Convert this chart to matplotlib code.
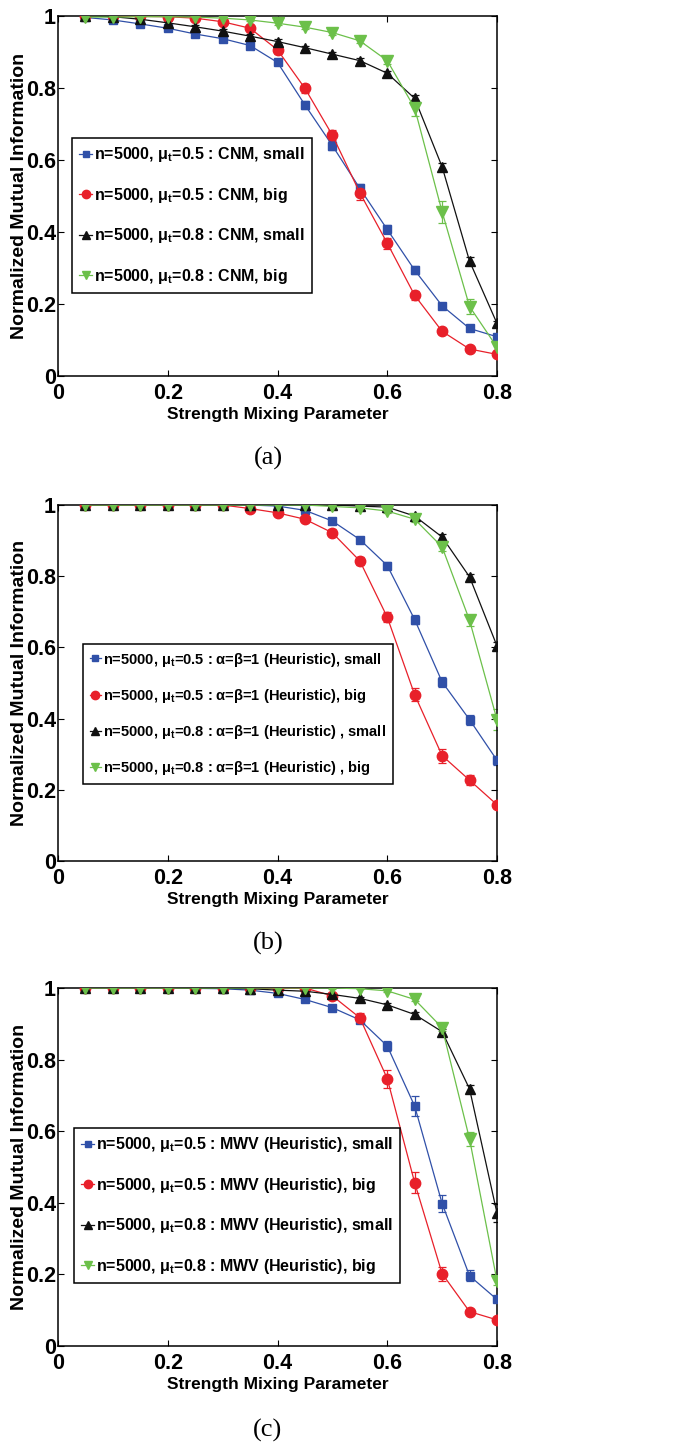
import matplotlib

matplotlib.use("Agg")
import matplotlib.pyplot as plt
import numpy as np

# strength mixing parameter on the x axis
MIX = [0.05, 0.10, 0.15, 0.20, 0.25, 0.30, 0.35, 0.40,
       0.45, 0.50, 0.55, 0.60, 0.65, 0.70, 0.75, 0.80]

# (a) CNM
CNM_SMALL_05 = [0.996, 0.989, 0.978, 0.966, 0.950, 0.937, 0.918, 0.871,
                0.753, 0.640, 0.521, 0.407, 0.294, 0.195, 0.132, 0.109]
CNM_BIG_05 = [1.000, 1.000, 0.999, 0.998, 0.994, 0.984, 0.966, 0.906,
              0.799, 0.669, 0.509, 0.369, 0.224, 0.124, 0.075, 0.060]
CNM_SMALL_08 = [1.000, 0.998, 0.991, 0.981, 0.970, 0.958, 0.944, 0.929,
                0.912, 0.894, 0.876, 0.841, 0.771, 0.581, 0.319, 0.146]
CNM_BIG_08 = [0.997, 0.997, 0.998, 0.998, 0.997, 0.994, 0.989, 0.980,
              0.969, 0.954, 0.931, 0.876, 0.744, 0.456, 0.193, 0.080]
CNM_ERR_SMALL_05 = [0.002, 0.003, 0.004, 0.005, 0.006, 0.006, 0.007, 0.008,
                    0.012, 0.012, 0.012, 0.012, 0.012, 0.008, 0.007, 0.008]
CNM_ERR_BIG_05 = [0.002, 0.002, 0.002, 0.003, 0.004, 0.006, 0.008, 0.012,
                  0.012, 0.014, 0.020, 0.015, 0.012, 0.008, 0.005, 0.004]
CNM_ERR_SMALL_08 = [0.002, 0.002, 0.003, 0.004, 0.005, 0.005, 0.005, 0.006,
                    0.006, 0.006, 0.006, 0.007, 0.010, 0.012, 0.012, 0.008]
CNM_ERR_BIG_08 = [0.002, 0.002, 0.002, 0.002, 0.003, 0.003, 0.004, 0.004,
                  0.005, 0.006, 0.007, 0.010, 0.022, 0.030, 0.020, 0.010]

# (b) alpha=beta=1 heuristic
HEU_SMALL_05 = [1.000, 1.000, 1.000, 1.000, 1.000, 1.000, 1.000, 0.997,
                0.985, 0.955, 0.903, 0.830, 0.678, 0.503, 0.397, 0.283]
HEU_BIG_05 = [1.000, 1.000, 1.000, 1.000, 1.000, 1.000, 0.990, 0.978,
              0.960, 0.922, 0.843, 0.685, 0.467, 0.296, 0.227, 0.158]
HEU_SMALL_08 = [1.000, 1.000, 1.000, 1.000, 1.000, 1.000, 1.000, 1.000,
                1.000, 1.000, 0.997, 0.994, 0.969, 0.910, 0.798, 0.604]
HEU_BIG_08 = [1.000, 1.000, 1.000, 1.000, 1.000, 1.000, 1.000, 1.000,
              1.000, 0.996, 0.992, 0.983, 0.960, 0.882, 0.676, 0.397]
HEU_ERR_SMALL_05 = [0.001, 0.001, 0.001, 0.001, 0.001, 0.001, 0.002, 0.003,
                    0.005, 0.007, 0.008, 0.010, 0.012, 0.014, 0.014, 0.012]
HEU_ERR_BIG_05 = [0.001, 0.001, 0.001, 0.001, 0.001, 0.002, 0.004, 0.006,
                  0.008, 0.010, 0.012, 0.015, 0.018, 0.020, 0.014, 0.008]
HEU_ERR_SMALL_08 = [0.001, 0.001, 0.001, 0.001, 0.001, 0.001, 0.001, 0.001,
                    0.002, 0.002, 0.003, 0.004, 0.006, 0.008, 0.008, 0.012]
HEU_ERR_BIG_08 = [0.001, 0.001, 0.001, 0.001, 0.001, 0.001, 0.002, 0.002,
                  0.002, 0.003, 0.004, 0.006, 0.008, 0.010, 0.016, 0.030]

# (c) MWV heuristic
MWV_SMALL_05 = [1.000, 0.999, 0.999, 0.999, 0.999, 0.998, 0.994, 0.985,
                0.968, 0.945, 0.911, 0.838, 0.670, 0.398, 0.196, 0.130]
MWV_BIG_05 = [1.000, 1.000, 1.000, 1.000, 1.000, 1.000, 1.000, 1.000,
              1.000, 0.978, 0.917, 0.747, 0.456, 0.202, 0.096, 0.073]
MWV_SMALL_08 = [1.000, 1.000, 1.000, 1.000, 0.999, 0.999, 0.998, 0.994,
                0.991, 0.982, 0.971, 0.953, 0.926, 0.878, 0.718, 0.371]
MWV_BIG_08 = [1.000, 1.000, 1.000, 1.000, 1.000, 1.000, 1.000, 1.000,
              1.000, 1.000, 0.998, 0.992, 0.968, 0.889, 0.578, 0.182]
MWV_ERR_SMALL_05 = [0.001, 0.001, 0.001, 0.001, 0.001, 0.002, 0.003, 0.004,
                    0.006, 0.007, 0.008, 0.015, 0.028, 0.025, 0.015, 0.008]
MWV_ERR_BIG_05 = [0.001, 0.001, 0.001, 0.001, 0.001, 0.001, 0.002, 0.002,
                  0.003, 0.006, 0.012, 0.025, 0.030, 0.020, 0.008, 0.005]
MWV_ERR_SMALL_08 = [0.001, 0.001, 0.001, 0.001, 0.001, 0.001, 0.002, 0.002,
                    0.003, 0.004, 0.005, 0.006, 0.006, 0.008, 0.010, 0.025]
MWV_ERR_BIG_08 = [0.001, 0.001, 0.001, 0.001, 0.001, 0.001, 0.001, 0.001,
                  0.001, 0.002, 0.002, 0.003, 0.005, 0.010, 0.020, 0.012]

LABELS_A = [
    "n=5000, μ$_\\mathrm{t}$=0.5 : CNM, small",
    "n=5000, μ$_\\mathrm{t}$=0.5 : CNM, big",
    "n=5000, μ$_\\mathrm{t}$=0.8 : CNM, small",
    "n=5000, μ$_\\mathrm{t}$=0.8 : CNM, big",
]
LABELS_B = [
    "n=5000, μ$_\\mathrm{t}$=0.5 : α=β=1 (Heuristic), small",
    "n=5000, μ$_\\mathrm{t}$=0.5 : α=β=1 (Heuristic), big",
    "n=5000, μ$_\\mathrm{t}$=0.8 : α=β=1 (Heuristic) , small",
    "n=5000, μ$_\\mathrm{t}$=0.8 : α=β=1 (Heuristic) , big",
]
LABELS_C = [
    "n=5000, μ$_\\mathrm{t}$=0.5 : MWV (Heuristic), small",
    "n=5000, μ$_\\mathrm{t}$=0.5 : MWV (Heuristic), big",
    "n=5000, μ$_\\mathrm{t}$=0.8 : MWV (Heuristic), small",
    "n=5000, μ$_\\mathrm{t}$=0.8 : MWV (Heuristic), big",
]
CAPTIONS = ["(a)", "(b)", "(c)"]

COLORS = ["#3050a8", "#e8202a", "#111111", "#6cc04a"]
MARKERS = ["s", "o", "^", "v"]
MSIZES = [6, 7.5, 7.5, 8]

plt.rcParams["font.family"] = ["Liberation Sans", "DejaVu Sans"]
plt.rcParams["font.weight"] = "bold"
plt.rcParams["mathtext.fontset"] = "custom"
plt.rcParams["mathtext.rm"] = "Liberation Sans:bold"

panels = [
    dict(series=[CNM_SMALL_05, CNM_BIG_05, CNM_SMALL_08, CNM_BIG_08],
         errs=[CNM_ERR_SMALL_05, CNM_ERR_BIG_05, CNM_ERR_SMALL_08, CNM_ERR_BIG_08],
         labels=LABELS_A, top=16, bottom=376, leg=(72, 138), legsize=11.5,
         spacing=1.35, cap_y=458),
    dict(series=[HEU_SMALL_05, HEU_BIG_05, HEU_SMALL_08, HEU_BIG_08],
         errs=[HEU_ERR_SMALL_05, HEU_ERR_BIG_05, HEU_ERR_SMALL_08, HEU_ERR_BIG_08],
         labels=LABELS_B, top=505, bottom=861, leg=(83, 644), legsize=10.5,
         spacing=1.25, cap_y=943),
    dict(series=[MWV_SMALL_05, MWV_BIG_05, MWV_SMALL_08, MWV_BIG_08],
         errs=[MWV_ERR_SMALL_05, MWV_ERR_BIG_05, MWV_ERR_SMALL_08, MWV_ERR_BIG_08],
         labels=LABELS_C, top=988, bottom=1346, leg=(74, 1128), legsize=11.5,
         spacing=1.35, cap_y=1430),
]

W, H = 677, 1447
fig = plt.figure(figsize=(W / 100, H / 100), dpi=100)

for p, caption in zip(panels, CAPTIONS):
    left, right = 58, 497
    ax_h = p["bottom"] - p["top"]
    ax = fig.add_axes([left / W, 1 - p["bottom"] / H,
                       (right - left) / W, ax_h / H])
    handles = []
    for ys, es, c, m, ms in zip(p["series"], p["errs"], COLORS, MARKERS, MSIZES):
        ax.errorbar(MIX, ys, yerr=es, fmt="none", ecolor=c, elinewidth=0.9,
                    capsize=3, capthick=0.9, zorder=2)
        (h,) = ax.plot(MIX, ys, color=c, lw=0.9, marker=m, ms=ms,
                       mec=c, mfc=c, zorder=3)
        handles.append(h)

    ax.set_xlim(0, 0.8)
    ax.set_ylim(0, 1)
    ax.set_xticks(np.arange(0, 0.81, 0.2))
    ax.set_yticks(np.arange(0, 1.01, 0.2))
    ax.set_xticklabels(["0", "0.2", "0.4", "0.6", "0.8"])
    ax.set_yticklabels(["0", "0.2", "0.4", "0.6", "0.8", "1"])
    ax.tick_params(direction="in", top=True, right=True, length=4,
                   width=0.8, labelsize=15.5, pad=1.5)
    ax.tick_params(axis="x", pad=5)
    for lab in ax.get_xticklabels() + ax.get_yticklabels():
        lab.set_fontweight("bold")
    for s in ax.spines.values():
        s.set_linewidth(1.1)

    ax.set_xlabel("Strength Mixing Parameter", fontsize=12.5, fontweight="bold")
    ax.xaxis.set_label_coords(0.501, -31 / ax_h)
    ax.set_ylabel("Normalized Mutual Information", fontsize=14,
                  fontweight="bold")
    ax.yaxis.set_label_coords(-30 / (right - left), 0.5)

    lx, ly = p["leg"]
    leg = ax.legend(handles, p["labels"], loc="upper left",
                    bbox_to_anchor=(lx / W, 1 - ly / H),
                    bbox_transform=fig.transFigure, borderaxespad=0,
                    fontsize=p["legsize"], handlelength=0.8, handletextpad=0.15,
                    borderpad=0.45, labelspacing=p["spacing"], fancybox=False,
                    framealpha=1, edgecolor="black", markerscale=0.8)
    leg.get_frame().set_linewidth(1.1)

    fig.text(268 / W, 1 - p["cap_y"] / H, caption, ha="center", va="center",
             fontsize=19, family="Liberation Serif", fontweight="normal")

fig.savefig("out.png", dpi=100)
